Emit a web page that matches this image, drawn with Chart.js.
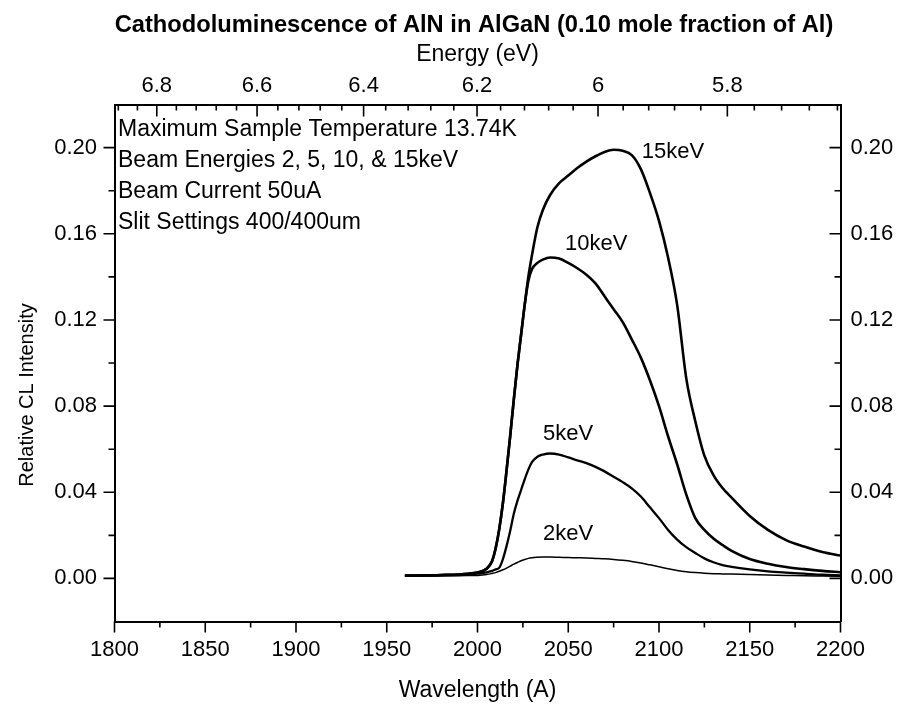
<!DOCTYPE html>
<html>
<head>
<meta charset="utf-8">
<title>Cathodoluminescence of AlN in AlGaN</title>
<script src="https://cdn.jsdelivr.net/npm/chart.js@4.4.1/dist/chart.umd.min.js"></script>
<style>
  html, body { margin: 0; padding: 0; background: #fff; }
  canvas { display: block; }
</style>
</head>
<body>
<canvas id="clChart" width="903" height="706"></canvas>
<script>
// --- Data ---
const wavelength = [1960, 1980, 1995, 2000, 2005, 2008, 2010, 2012, 2014, 2016, 2018, 2020, 2022, 2024, 2026, 2028, 2030, 2033, 2036, 2040,
  2045, 2050, 2055, 2060, 2065, 2070, 2075, 2080, 2085, 2090, 2095, 2100, 2105, 2110, 2115, 2120, 2125, 2130, 2135, 2140,
  2150, 2160, 2170, 2180, 2190, 2200];

const cl15keV = [0.0013, 0.0016, 0.0022, 0.0028, 0.0045, 0.008, 0.014, 0.023, 0.035, 0.050, 0.066, 0.083, 0.099, 0.113, 0.127, 0.140, 0.150, 0.163, 0.171, 0.178,
  0.1835, 0.187, 0.1905, 0.1935, 0.196, 0.198, 0.199, 0.1985, 0.1965, 0.190, 0.179, 0.166, 0.149, 0.127, 0.093, 0.073, 0.057, 0.048, 0.042, 0.0375,
  0.029, 0.0225, 0.0178, 0.0148, 0.0123, 0.0106];

const cl10keV = [0.0013, 0.0016, 0.0022, 0.0028, 0.0045, 0.008, 0.014, 0.023, 0.035, 0.050, 0.066, 0.083, 0.099, 0.113, 0.127, 0.138, 0.1435, 0.1465, 0.148, 0.149,
  0.1485, 0.1465, 0.144, 0.141, 0.137, 0.131, 0.125, 0.119, 0.111, 0.1025, 0.092, 0.080, 0.066, 0.053, 0.039, 0.028, 0.0225, 0.0185, 0.0155, 0.0128,
  0.009, 0.0068, 0.0053, 0.0043, 0.0035, 0.0029];

const cl5keV = [0.0012, 0.0014, 0.0018, 0.0022, 0.0028, 0.0035, 0.0042, 0.005, 0.009, 0.015, 0.022, 0.030, 0.036, 0.041, 0.046, 0.0505, 0.054, 0.0565, 0.0575, 0.058,
  0.0575, 0.0562, 0.0548, 0.0535, 0.0518, 0.0497, 0.0472, 0.0447, 0.0418, 0.038, 0.033, 0.028, 0.0225, 0.018, 0.0145, 0.0118, 0.0093, 0.0075, 0.0062, 0.0054,
  0.0042, 0.0033, 0.0027, 0.0022, 0.0017, 0.0014];

const cl2keV = [0.0011, 0.0012, 0.0013, 0.0014, 0.0018, 0.0023, 0.0027, 0.0033, 0.004, 0.0048, 0.0057, 0.0066, 0.0074, 0.0082, 0.0088, 0.0093, 0.0096, 0.0098, 0.0099, 0.0099,
  0.0098, 0.0097, 0.0096, 0.0095, 0.0093, 0.0091, 0.0088, 0.0084, 0.0079, 0.0072, 0.0063, 0.0054, 0.0045, 0.0037, 0.0031, 0.0027, 0.0024, 0.0022, 0.0021, 0.002,
  0.0018, 0.0016, 0.0014, 0.0012, 0.0011, 0.001];

// --- Axis ticks ---
const wlTicks = [1800, 1825, 1850, 1875, 1900, 1925, 1950, 1975, 2000, 2025, 2050, 2075, 2100, 2125, 2150, 2175, 2200];
const intensityTicks = [0, 0.02, 0.04, 0.06, 0.08, 0.10, 0.12, 0.14, 0.16, 0.18, 0.20];
const energyTicks = [6.88, 6.84, 6.80, 6.76, 6.72, 6.68, 6.64, 6.60, 6.56, 6.52, 6.48, 6.44, 6.40, 6.36, 6.32, 6.28, 6.24, 6.20,
  6.16, 6.12, 6.08, 6.04, 6.00, 5.96, 5.92, 5.88, 5.84, 5.80, 5.76, 5.72, 5.68, 5.64];
const HC = 12398.4; // eV * Angstrom

// --- Text on the plot ---
const infoLines = [
  "Maximum Sample Temperature 13.74K",
  "Beam Energies 2, 5, 10, & 15keV",
  "Beam Current 50uA",
  "Slit Settings 400/400um"
];
const curveLabels = ["15keV", "10keV", "5keV", "2keV"];
const curveLabelWl = [2090.5, 2048.2, 2036.1, 2036.1];
const curveLabelVal = [0.198, 0.1555, 0.067, 0.0205];

const isMajorWl = (v) => v % 50 === 0;
const isMajorI = (v) => Math.abs(v / 0.04 - Math.round(v / 0.04)) < 1e-6;
const isMajorE = (e) => Math.round(e * 100) % 20 === 0;

const toPoints = (ys) => ys.map((v, i) => ({ x: wavelength[i], y: v }));

const FONT = '"Liberation Sans", Arial, sans-serif';
const tickFont = { family: FONT, size: 22 };

// --- draw tick marks (left/bottom outward, top/right inward) ---
const tickMarks = {
  id: "tickMarks",
  afterDraw(chart) {
    const { ctx, chartArea: a, scales } = chart;
    ctx.save();
    ctx.strokeStyle = "#000";
    ctx.lineWidth = 1.6;
    ctx.beginPath();
    scales.x.ticks.forEach((t) => {
      const px = scales.x.getPixelForValue(t.value);
      const len = isMajorWl(t.value) ? 11 : 6;
      ctx.moveTo(px, a.bottom); ctx.lineTo(px, a.bottom + len);
    });
    scales.x2.ticks.forEach((t) => {
      const px = scales.x2.getPixelForValue(t.value);
      const len = isMajorE(t.eV) ? 12 : 6;
      ctx.moveTo(px, a.top); ctx.lineTo(px, a.top + len);
    });
    scales.y.ticks.forEach((t) => {
      const py = scales.y.getPixelForValue(t.value);
      const len = isMajorI(t.value) ? 11 : 6;
      ctx.moveTo(a.left - len, py); ctx.lineTo(a.left, py);
    });
    scales.y2.ticks.forEach((t) => {
      const py = scales.y2.getPixelForValue(t.value);
      const len = isMajorI(t.value) ? 11 : 6;
      ctx.moveTo(a.right - len, py); ctx.lineTo(a.right, py);
    });
    ctx.stroke();
    ctx.restore();
  }
};

// --- notes, curve labels and the left axis title ---
const annotate = {
  id: "annotate",
  afterDraw(chart) {
    const { ctx, chartArea: a, scales: { x, y } } = chart;
    ctx.save();
    ctx.fillStyle = "#000";
    ctx.textBaseline = "middle";
    ctx.textAlign = "left";
    ctx.font = "23px " + FONT;
    infoLines.forEach((t, i) => ctx.fillText(t, a.left + 3.5, a.top + 25.5 + i * 31));
    ctx.font = "22px " + FONT;
    curveLabels.forEach((t, i) => {
      ctx.fillText(t, x.getPixelForValue(curveLabelWl[i]), y.getPixelForValue(curveLabelVal[i]));
    });
    ctx.font = "20px " + FONT;
    ctx.textAlign = "center";
    ctx.translate(a.left - 87.5, (a.top + a.bottom) / 2 + 32);
    ctx.rotate(-Math.PI / 2);
    ctx.fillText("Relative CL Intensity", 0, 0);
    ctx.restore();
  }
};

const lineSet = (label, ys, width) => ({
  label,
  data: toPoints(ys),
  borderColor: "#000",
  borderWidth: width,
  pointRadius: 0,
  fill: false,
  cubicInterpolationMode: "monotone"
});

const yAxis = (pos, width, pad) => ({
  type: "linear",
  position: pos,
  min: -0.02,
  max: 0.22,
  afterBuildTicks: (scale) => { scale.ticks = intensityTicks.map((v) => ({ value: v })); },
  afterFit: (scale) => { scale.width = width; },
  grid: { display: false, drawTicks: false },
  border: { display: true, color: "#000", width: 2 },
  ticks: {
    autoSkip: false,
    padding: pad,
    color: "#000",
    font: tickFont,
    callback: (v) => (isMajorI(v) ? v.toFixed(2) : "")
  }
});

new Chart(document.getElementById("clChart"), {
  type: "line",
  data: {
    datasets: [
      lineSet("2keV", cl2keV, 1.5),
      lineSet("5keV", cl5keV, 2.3),
      lineSet("10keV", cl10keV, 2.6),
      lineSet("15keV", cl15keV, 2.6)
    ]
  },
  options: {
    responsive: false,
    animation: false,
    devicePixelRatio: 1,
    layout: { padding: { left: 45, right: 0, top: 0, bottom: 0 } },
    plugins: {
      legend: { display: false },
      tooltip: { enabled: false },
      title: {
        display: true,
        text: "Cathodoluminescence of AlN in AlGaN (0.10 mole fraction of Al)",
        color: "#000",
        font: { family: FONT, size: 23.7, weight: "bold" },
        padding: { top: 10.8, bottom: 0 }
      }
    },
    scales: {
      x: {
        type: "linear",
        position: "bottom",
        min: 1800,
        max: 2200,
        afterBuildTicks: (scale) => { scale.ticks = wlTicks.map((v) => ({ value: v })); },
        afterFit: (scale) => { scale.height = 84.5; },
        grid: { display: false, drawTicks: false },
        border: { display: true, color: "#000", width: 2 },
        ticks: {
          autoSkip: false,
          maxRotation: 0,
          padding: 15.3,
          color: "#000",
          font: tickFont,
          callback: (v) => (isMajorWl(v) ? String(v) : "")
        },
        title: {
          display: true,
          text: "Wavelength (A)",
          color: "#000",
          font: { family: FONT, size: 23 },
          padding: { top: 0, bottom: 1.2 }
        }
      },
      x2: {
        type: "linear",
        position: "top",
        min: 1800,
        max: 2200,
        afterBuildTicks: (scale) => {
          scale.ticks = energyTicks.map((e) => ({ value: HC / e, eV: e }));
        },
        afterFit: (scale) => { scale.height = 65.3; },
        grid: { display: false, drawTicks: false },
        border: { display: true, color: "#000", width: 2 },
        ticks: {
          autoSkip: false,
          maxRotation: 0,
          padding: 5.8,
          color: "#000",
          font: tickFont,
          callback: (v, i, ticks) => {
            const e = ticks[i].eV;
            return isMajorE(e) ? String(parseFloat(e.toFixed(2))) : "";
          }
        },
        title: {
          display: true,
          text: "Energy (eV)",
          color: "#000",
          font: { family: FONT, size: 23 },
          padding: { top: 2, bottom: 0 }
        }
      },
      y: yAxis("left", 69.5, 17.5),
      y2: yAxis("right", 62.5, 10)
    }
  },
  plugins: [tickMarks, annotate]
});
</script>
</body>
</html>
